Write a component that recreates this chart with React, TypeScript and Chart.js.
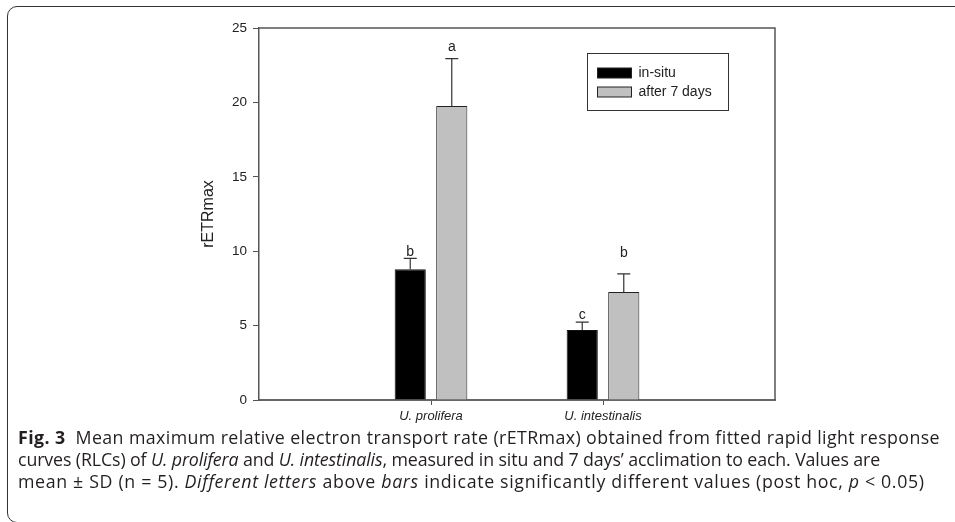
import React, { useEffect, useRef } from "react";
import { Chart, registerables } from "chart.js";

Chart.register(...registerables);

const categories = ["", "U. prolifera", "U. intestinalis", ""];
const seriesNames = ["in-situ", "after 7 days"];
const inSitu = [null, 8.78, 4.7, null];
const after7 = [null, 19.76, 7.26, null];
const inSituSD = [0, 0.74, 0.54, 0];
const after7SD = [0, 3.18, 1.21, 0];
const inSituLetters = ["", "b", "c", ""];
const after7Letters = ["", "a", "b", ""];
const inSituLetterY = [0, 9.95, 5.7, 0];
const after7LetterY = [0, 23.7, 9.9, 0];
const yTicks = [0, 5, 10, 15, 20, 25];

const FONT = "'Liberation Sans', Arial, sans-serif";
const NARROW = "'Liberation Sans Narrow', 'Arial Narrow', 'Liberation Sans', Arial, sans-serif";
const BLACK = "#000000";
const GRAY = "#c0c0c0";

const sdList = [inSituSD, after7SD];
const letterList = [inSituLetters, after7Letters];
const letterYList = [inSituLetterY, after7LetterY];

const overlayPlugin = {
  id: "overlay",
  afterDatasetsDraw(chart: any) {
    const { ctx, chartArea, scales } = chart;
    const y = scales.y;
    ctx.save();
    chart.data.datasets.forEach((ds: any, di: number) => {
      const meta = chart.getDatasetMeta(di);
      meta.data.forEach((bar: any, i: number) => {
        const v = ds.data[i];
        if (v === null || v === undefined) return;
        const x = bar.x;
        const top = y.getPixelForValue(v);
        const et = y.getPixelForValue(v + sdList[di][i]);
        ctx.strokeStyle = "#333";
        ctx.lineWidth = 1.2;
        ctx.beginPath();
        ctx.moveTo(x, top);
        ctx.lineTo(x, et);
        ctx.moveTo(x - 6.5, et);
        ctx.lineTo(x + 6.5, et);
        ctx.stroke();
        const letter = letterList[di][i];
        if (letter) {
          ctx.fillStyle = "#222";
          ctx.font = `14px ${FONT}`;
          ctx.textAlign = "center";
          ctx.textBaseline = "middle";
          ctx.fillText(letter, x, y.getPixelForValue(letterYList[di][i]));
        }
      });
    });
    ctx.strokeStyle = "#555";
    ctx.lineWidth = 1.5;
    ctx.beginPath();
    ctx.moveTo(chartArea.left, chartArea.top);
    ctx.lineTo(chartArea.right, chartArea.top);
    ctx.lineTo(chartArea.right, chartArea.bottom);
    ctx.stroke();
    const bx = chartArea.right - 187.5;
    const by = chartArea.top + 25.5;
    ctx.lineWidth = 1;
    ctx.strokeStyle = "#333";
    ctx.fillStyle = "#fff";
    ctx.fillRect(bx, by, 141, 57);
    ctx.strokeRect(bx, by, 141, 57);
    const colors = [BLACK, GRAY];
    seriesNames.forEach((name, k) => {
      const sy = by + 14.5 + k * 19;
      ctx.fillStyle = colors[k];
      ctx.fillRect(bx + 10, sy, 34, 10);
      ctx.strokeStyle = "#222";
      ctx.strokeRect(bx + 10, sy, 34, 10);
      ctx.fillStyle = "#222";
      ctx.font = `14px ${FONT}`;
      ctx.textAlign = "left";
      ctx.textBaseline = "middle";
      ctx.fillText(name, bx + 51, sy + 5);
    });
    ctx.restore();
  },
};

function ChartBox() {
  const ref = useRef<HTMLCanvasElement | null>(null);
  useEffect(() => {
    if (!ref.current) return;
    const chart = new Chart(ref.current, {
      type: "bar",
      data: {
        labels: categories,
        datasets: [
          {
            label: seriesNames[0],
            data: inSitu,
            backgroundColor: BLACK,
            borderColor: "#111",
            borderWidth: 1,
            barPercentage: 0.75,
            categoryPercentage: 0.483,
          },
          {
            label: seriesNames[1],
            data: after7,
            backgroundColor: GRAY,
            borderColor: "#222",
            borderWidth: 1,
            barPercentage: 0.75,
            categoryPercentage: 0.483,
          },
        ],
      } as any,
      options: {
        animation: false,
        responsive: false,
        maintainAspectRatio: false,
        layout: { padding: { left: 189, right: 180, top: 28, bottom: 10 } },
        plugins: {
          legend: { display: false },
          tooltip: { enabled: false },
        },
        scales: {
          x: {
            type: "category",
            offset: false,
            grid: {
              offset: false,
              drawOnChartArea: false,
              tickLength: 5,
              color: (c: any) => (c.index === 1 || c.index === 2 ? "#555" : "rgba(0,0,0,0)"),
            },
            border: { display: true, color: "#666", width: 2 },
            ticks: {
              color: "#222",
              font: { family: NARROW, size: 13, style: "italic" },
              padding: 4,
              maxRotation: 0,
              autoSkip: false,
            },
            afterFit: (s: any) => {
              s.height = 30;
            },
          },
          y: {
            min: 0,
            max: 25,
            afterBuildTicks: (s: any) => {
              s.ticks = yTicks.map((v) => ({ value: v }));
            },
            grid: { drawOnChartArea: false, tickLength: 6, color: "#555" },
            border: { display: true, color: "#555", width: 1.5 },
            ticks: {
              color: "#222",
              font: { family: FONT, size: 13.5 },
              padding: 6,
            },
            title: {
              display: true,
              text: "rETRmax",
              color: "#222",
              font: { family: FONT, size: 16 },
              padding: { top: 10, bottom: 0 },
            },
            afterFit: (s: any) => {
              s.width = 70;
            },
          },
        },
      } as any,
      plugins: [overlayPlugin],
    });
    return () => chart.destroy();
  }, []);
  return (
    <canvas
      ref={ref}
      width={955}
      height={440}
      style={{ position: "absolute", left: 0, top: 0, width: 955, height: 440 }}
    />
  );
}

const CAP_FONT = "'Open Sans', 'Noto Sans', sans-serif";

export default function App() {
  const lineStyle: React.CSSProperties = {
    position: "absolute",
    left: 18,
    whiteSpace: "nowrap",
    fontFamily: CAP_FONT,
    fontSize: 17.8,
    lineHeight: "22px",
    color: "#231f20",
  };
  return (
    <div
      style={{
        position: "absolute",
        left: 0,
        top: 0,
        width: 955,
        height: 522,
        overflow: "hidden",
        background: "#fff",
      }}
    >
      <div
        style={{
          position: "absolute",
          left: 7,
          top: 6,
          width: 980,
          height: 517,
          border: "1.5px solid #333",
          borderRadius: 10,
          boxSizing: "border-box",
        }}
      />
      <ChartBox />
      <div style={{ ...lineStyle, top: 426, letterSpacing: "0.4px" }}>
        <b>Fig. 3</b>&nbsp; Mean maximum relative electron transport rate (rETRmax) obtained from fitted rapid light response
      </div>
      <div style={{ ...lineStyle, top: 448, letterSpacing: "-0.12px" }}>
        curves (RLCs) of <i>U. prolifera</i> and <i>U. intestinalis</i>, measured in situ and 7 days’ acclimation to each. Values are
      </div>
      <div style={{ ...lineStyle, top: 470, letterSpacing: "0.65px" }}>
        mean ± SD (n = 5). <i>Different letters</i> above <i>bars</i> indicate significantly different values (post hoc, <i>p</i> &lt; 0.05)
      </div>
    </div>
  );
}
